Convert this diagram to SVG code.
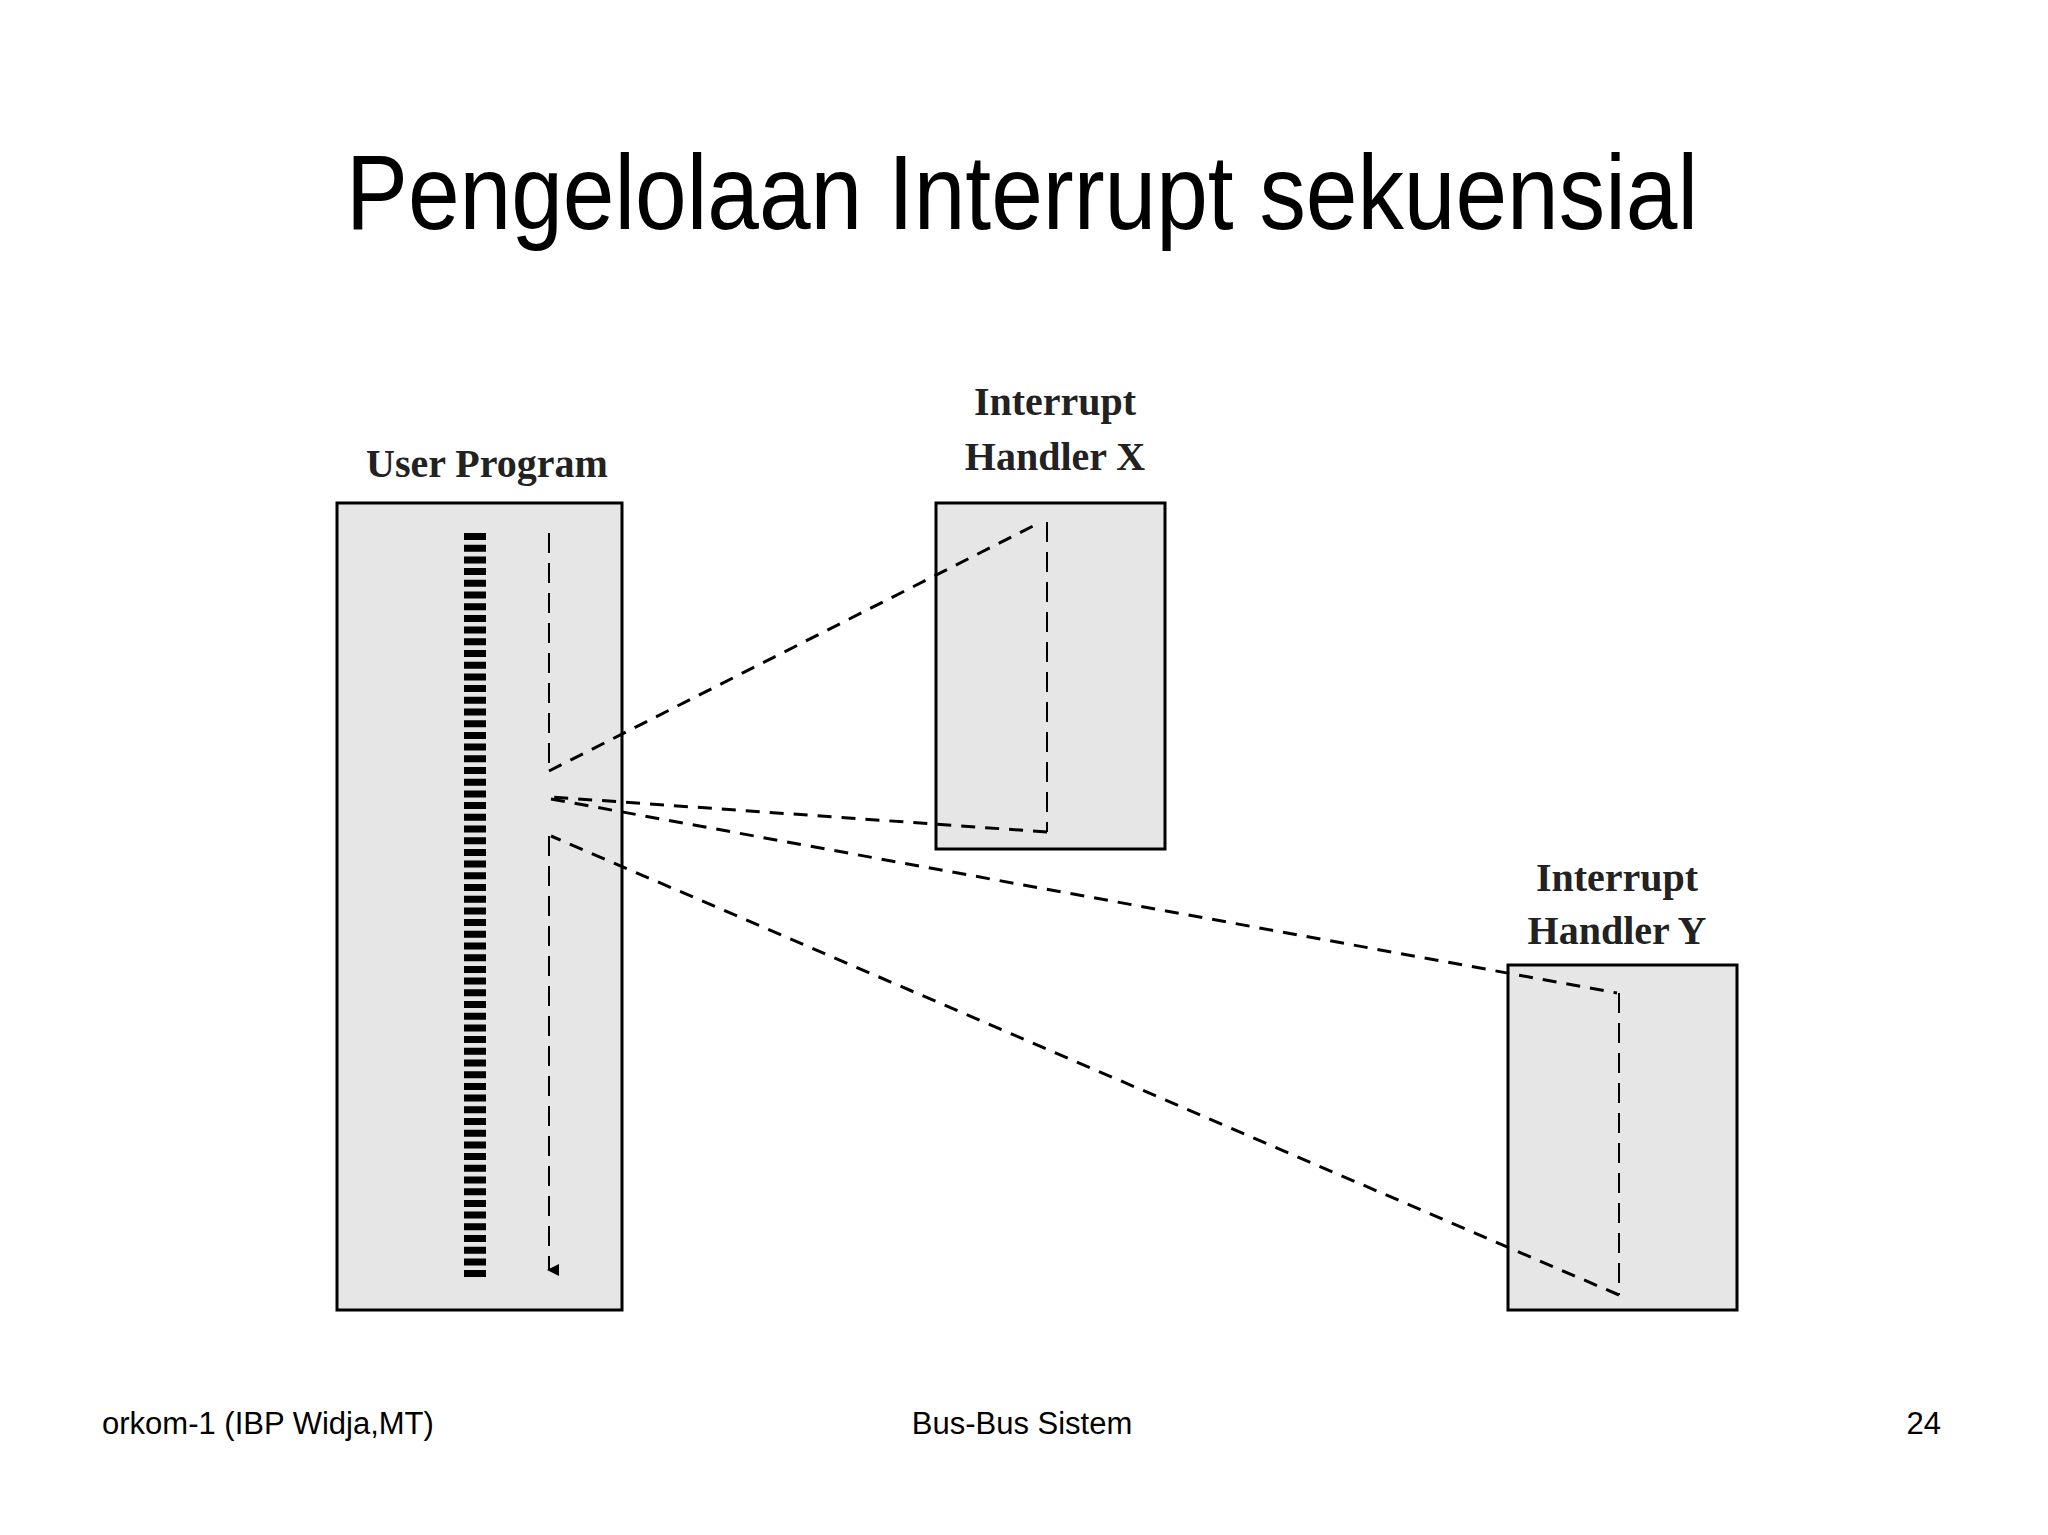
<svg xmlns="http://www.w3.org/2000/svg" width="2048" height="1535" viewBox="0 0 2048 1535">
<style>
.box{fill:#e6e6e6;stroke:#000;stroke-width:3}
.lbl{font-family:"Liberation Serif",serif;font-weight:bold;font-size:40px;fill:#222;text-anchor:middle}
.ft{font-family:"Liberation Sans",sans-serif;font-size:31px;fill:#000}
.d{fill:none;stroke:#000;stroke-width:2;stroke-dasharray:20 10}
.d2{fill:none;stroke:#000;stroke-width:3;stroke-dasharray:14 10}
</style>
<defs><marker id="ah" markerWidth="12" markerHeight="12" refX="6" refY="10" orient="auto" markerUnits="userSpaceOnUse"><path d="M0,0 L12,0 L6,12 z" fill="#000"/></marker></defs>
<rect width="2048" height="1535" fill="#fff"/>
<text x="1022" y="229" font-family="Liberation Sans Narrow,Liberation Sans,sans-serif" font-size="106" text-anchor="middle" textLength="1352" lengthAdjust="spacingAndGlyphs">Pengelolaan Interrupt sekuensial</text>
<g id="user"><rect class="box" x="337" y="503" width="285" height="807"/>
<text class="lbl" x="487" y="477">User Program</text>
<line x1="475" y1="533" x2="475" y2="1280" stroke="#000" stroke-width="22" stroke-dasharray="7 4.7"/></g>
<g id="hx"><rect class="box" x="936" y="503" width="229" height="346"/>
<text class="lbl" x="1055" y="415">Interrupt</text><text class="lbl" x="1055" y="470">Handler X</text></g>
<g id="hy"><rect class="box" x="1508" y="965" width="229" height="345"/>
<text class="lbl" x="1617" y="891">Interrupt</text><text class="lbl" x="1617" y="944">Handler Y</text></g>
<g id="connectors">
<line class="d" x1="549" y1="533" x2="549" y2="771"/>
<line class="d" x1="549" y1="836" x2="549" y2="1270" marker-end="url(#ah)"/>
<line class="d2" x1="549" y1="771" x2="1041" y2="522"/>
<line class="d" x1="1047" y1="522" x2="1047" y2="832"/>
<line class="d2" x1="1047" y1="832" x2="551" y2="797"/>
<line class="d2" x1="551" y1="799" x2="1617" y2="993"/>
<line class="d" x1="1619" y1="993" x2="1619" y2="1295"/>
<line class="d2" x1="1619" y1="1295" x2="551" y2="836"/>
</g>
<text class="ft" x="102" y="1434">orkom-1 (IBP Widja,MT)</text>
<text class="ft" x="1022" y="1434" text-anchor="middle">Bus-Bus Sistem</text>
<text class="ft" x="1941" y="1434" text-anchor="end">24</text>
</svg>
